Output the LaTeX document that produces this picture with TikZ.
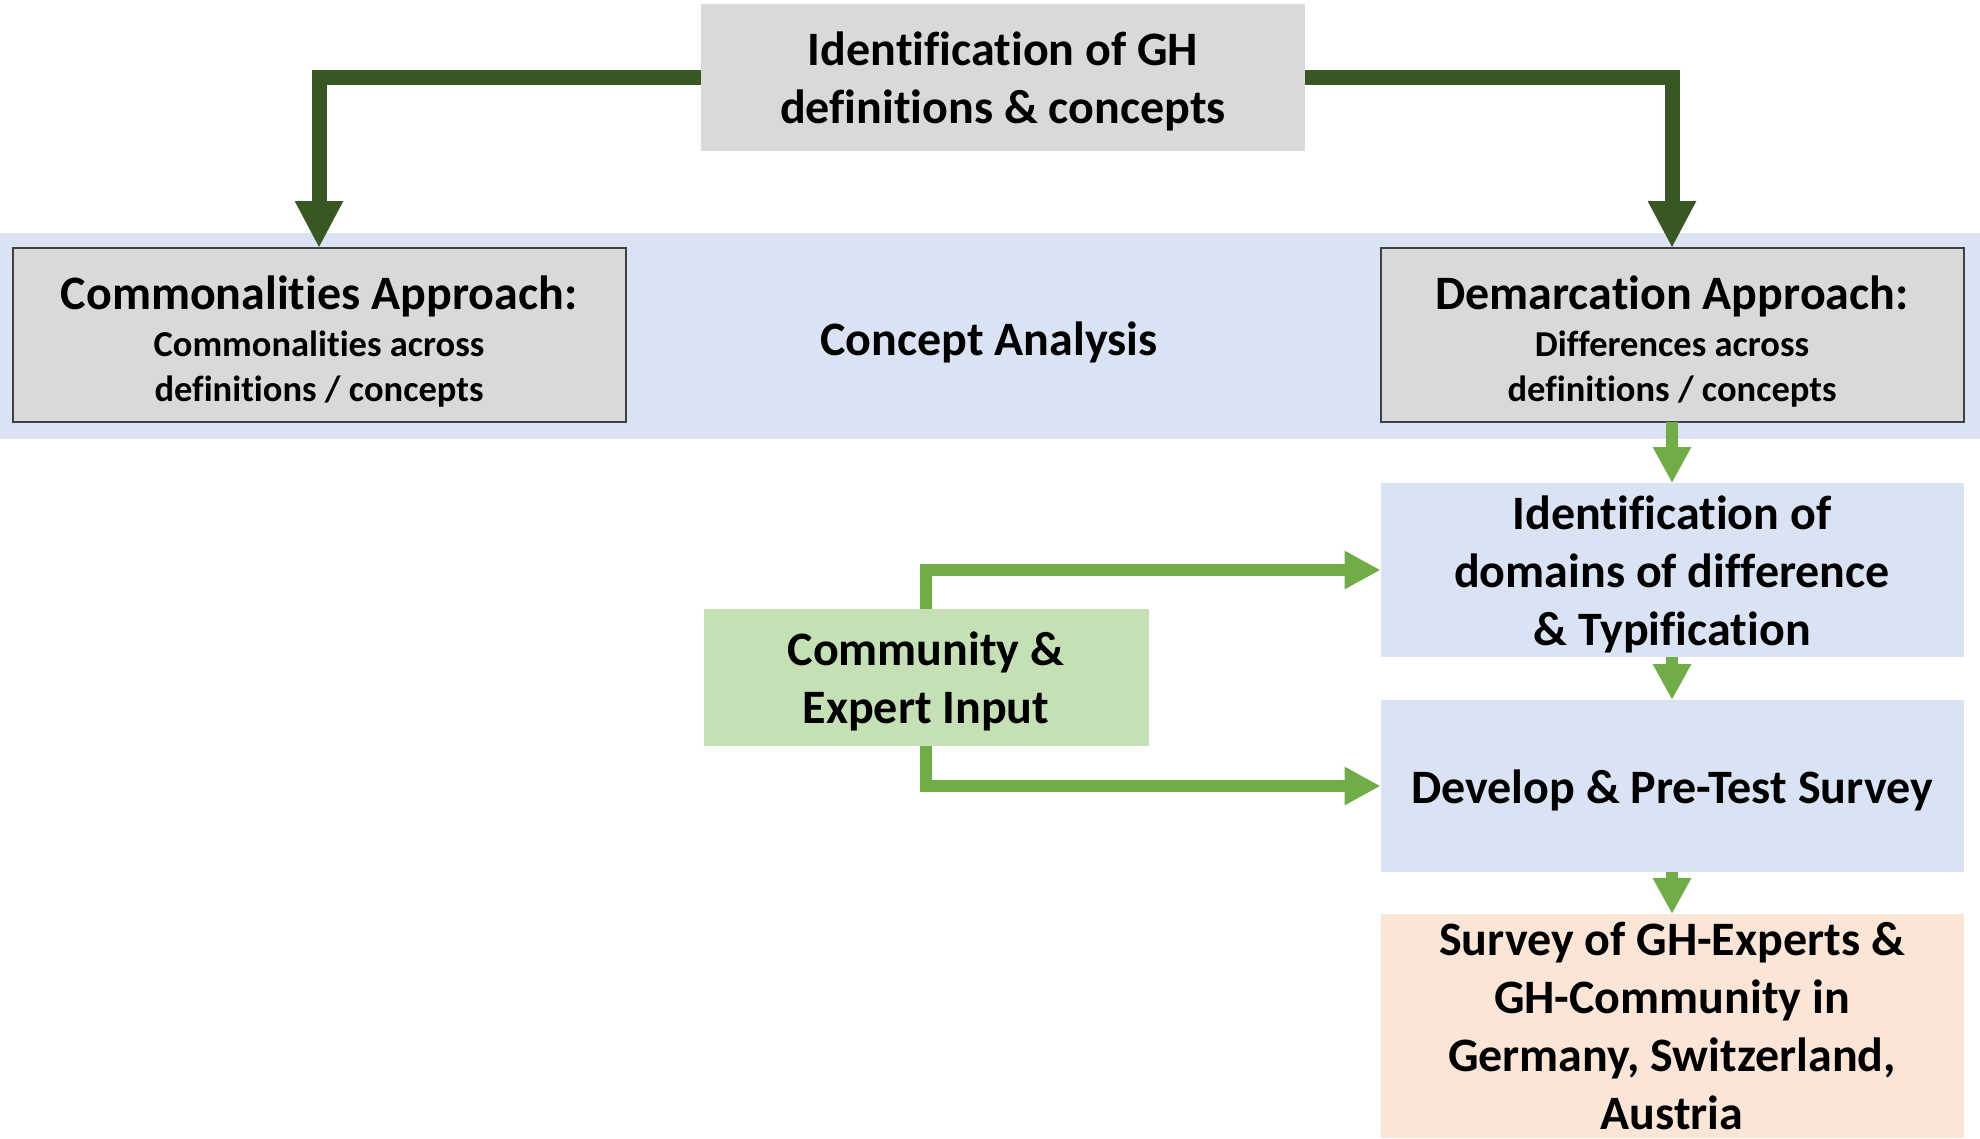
\documentclass[tikz,border=0pt]{standalone}
\usepackage{fontspec}
\setmainfont{Carlito}[Ligatures=NoCommon]
\usetikzlibrary{arrows.meta}
\definecolor{dkgreen}{HTML}{385723}
\definecolor{ltgreen}{HTML}{70AD47}
\definecolor{boxgray}{HTML}{D9D9D9}
\definecolor{bandblue}{HTML}{DAE3F3}
\definecolor{commgreen}{HTML}{C5E0B4}
\definecolor{peach}{HTML}{FBE5D6}
\newcommand\bigtxt{\fontsize{48}{58}\selectfont\bfseries}
\newcommand\smtxt{\fontsize{36.5}{45}\selectfont\bfseries}
\tikzset{
  plainbox/.style={rectangle, inner sep=0pt, outer sep=0pt, draw=none},
  framedbox/.style={plainbox, fill=boxgray, draw=black!75, line width=2pt},
  txt/.style={inner sep=0pt, align=center, font=\bigtxt},
  subtxt/.style={inner sep=0pt, align=center, font=\smtxt},
  darrow/.style={draw=dkgreen, line width=15pt, -{Triangle[width=45pt,length=47pt]}},
  larrow/.style={draw=ltgreen, line width=12pt, -{Triangle[width=36pt,length=36pt]}},
}
\begin{document}
\begin{tikzpicture}[x=1pt,y=-1pt]
\useasboundingbox (0,0) rectangle (1980,1138);
% band
\node[plainbox, fill=bandblue, minimum width=1980pt, minimum height=206pt] (band) at (990,336) {};
\node[txt] (ca) at (989,342) {Concept Analysis};
% top box
\node[plainbox, fill=boxgray, minimum width=604pt, minimum height=147pt] (top) at (1003,77) {};
\node[txt] (topT) at (1003,81) {Identification of GH\\definitions \& concepts};
% left box
\node[framedbox, minimum width=613pt, minimum height=174pt] (comm) at (319,335) {};
\node[txt] (commT) at (319,296) {Commonalities Approach:};
\node[subtxt] (commS) at (319,369) {Commonalities across\\definitions / concepts};
% right box
\node[framedbox, minimum width=583pt, minimum height=174pt] (dem) at (1672,335) {};
\node[txt] (demT) at (1672,296) {Demarcation Approach:};
\node[subtxt] (demS) at (1672,369) {Differences across\\definitions / concepts};
% lower boxes
\node[plainbox, fill=bandblue, minimum width=583pt, minimum height=174pt] (ident) at (1672,570) {};
\node[txt] (identT) at (1672,574) {Identification of\\domains of difference\\\& Typification};
\node[plainbox, fill=bandblue, minimum width=583pt, minimum height=172pt] (dev) at (1672,786) {};
\node[txt] (devT) at (1672,790) {Develop \& Pre-Test Survey};
\node[plainbox, fill=peach, minimum width=583pt, minimum height=224pt] (surv) at (1672,1026) {};
\node[txt] (survT) at (1672,1026) {Survey of GH-Experts \&\\GH-Community in\\Germany, Switzerland,\\Austria};
\node[plainbox, fill=commgreen, minimum width=445pt, minimum height=137pt] (ce) at (926,677) {};
\node[txt] (ceT) at (926,681) {Community \&\\Expert Input};
% dark arrows
\draw[darrow] (top.west) -| (comm.north);
\draw[darrow] (top.east) -| (dem.north);
% light arrows
\draw[larrow] (dem.south) -- (ident.north);
\draw[larrow] (ident.south) -- (dev.north);
\draw[larrow] (dev.south) -- (surv.north);
\draw[larrow] (ce.north) |- (ident.west);
\draw[larrow] (ce.south) |- (dev.west);
\end{tikzpicture}
\end{document}
